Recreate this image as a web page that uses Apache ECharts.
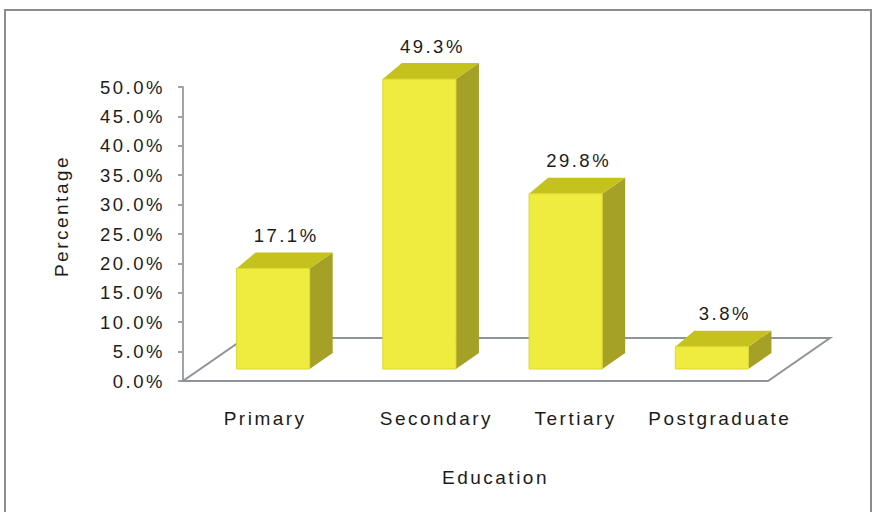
<!DOCTYPE html>
<html>
<head>
<meta charset="utf-8">
<script src="https://cdn.jsdelivr.net/npm/echarts@6/dist/echarts.min.js"></script>
<style>
  html, body { margin: 0; padding: 0; background: #fff; }
  #chart { width: 880px; height: 512px; }
  #chart text { letter-spacing: 2.5px; }
</style>
</head>
<body>
<div id="chart"></div>
<script>
const categories = ['Primary', 'Secondary', 'Tertiary', 'Postgraduate'];
const values = [17.1, 49.3, 29.8, 3.8];
const valueLabels = ['17.1%', '49.3%', '29.8%', '3.8%'];
const yMin = 0, yMax = 50, yStep = 5;
const xTitle = 'Education';
const yTitle = 'Percentage';

const FONT = "'Liberation Sans', Arial, sans-serif";
const TXT = '#1c1c1c';
const FLOOR_DX = 62, FLOOR_DY = -43;
const BAR_DX = 17, BAR_DY = -12;
// horizontal nudges of the category labels (px)
const labelShift = [9, 34, 27, 25];

const chart = echarts.init(document.getElementById('chart'), null, { renderer: 'svg' });

const barData = values.map((v, i) => [i, v]);
const rich = {};
labelShift.forEach((s, i) => {
  rich['c' + i] = {
    fontSize: 19, fontFamily: FONT, color: TXT,
    padding: s >= 0 ? [0, 0, 0, 2 * s] : [0, -2 * s, 0, 0]
  };
});

chart.setOption({
  animation: false,
  backgroundColor: '#fff',
  graphic: [{
    type: 'rect', silent: true, z: -10,
    shape: { x: 5, y: 10, width: 866, height: 530 },
    style: { fill: '#fff', stroke: '#8c8c8c', lineWidth: 2 }
  }],
  grid: { left: 183, top: 87, width: 585, height: 294 },
  xAxis: {
    type: 'category',
    data: categories,
    axisLine: { show: false },
    axisTick: { show: false },
    axisLabel: {
      interval: 0, hideOverlap: false,
      margin: 28, fontSize: 19, fontFamily: FONT, color: TXT,
      formatter: (v, i) => '{c' + i + '|' + v + '}',
      rich: rich
    },
    name: xTitle,
    nameLocation: 'middle',
    nameGap: 87,
    nameTextStyle: { fontSize: 19, fontFamily: FONT, color: TXT, padding: [0, 0, 0, 40] }
  },
  yAxis: {
    type: 'value',
    min: yMin, max: yMax, interval: yStep,
    splitLine: { show: false },
    axisLine: { show: true, lineStyle: { color: '#a2a2a6', width: 2 } },
    axisTick: { show: true, length: 5, lineStyle: { color: '#a2a2a6', width: 2 } },
    axisLabel: {
      margin: 18, fontSize: 18.5, fontFamily: FONT, color: TXT,
      formatter: v => v.toFixed(1) + '%'
    },
    name: yTitle,
    nameLocation: 'middle',
    nameRotate: 90,
    nameGap: 112,
    nameTextStyle: { fontSize: 19, fontFamily: FONT, color: TXT, padding: [0, 0, 0, 36] }
  },
  series: [
    {
      type: 'custom',
      z: 1,
      silent: true,
      data: [[0, 0]],
      renderItem: function (params, api) {
        const cs = params.coordSys;
        const x0 = cs.x, x1 = cs.x + cs.width, y0 = cs.y + cs.height;
        return {
          type: 'polygon',
          shape: { points: [[x0, y0], [x1, y0], [x1 + FLOOR_DX, y0 + FLOOR_DY], [x0 + FLOOR_DX, y0 + FLOOR_DY]] },
          style: { fill: '#fff', stroke: '#8f939a', lineWidth: 2 }
        };
      }
    },
    {
      type: 'custom',
      z: 2,
      data: barData,
      encode: { x: 0, y: 1 },
      renderItem: function (params, api) {
        const i = api.value(0), v = api.value(1);
        const base = api.coord([i, 0]);
        const top = api.coord([i, v]);
        const w = api.size([1, 0])[0] * 0.5;
        const fx = base[0] + BAR_DX - w / 2;
        const fy0 = base[1] + BAR_DY;
        const fy1 = top[1] + BAR_DY;
        const rdx = 23, ldx = 19, ddy = -16;
        return {
          type: 'group',
          children: [
            {
              type: 'polygon',
              shape: { points: [[fx + w, fy1], [fx + w + rdx, fy1 + ddy], [fx + w + rdx, fy0 + ddy], [fx + w, fy0]] },
              style: { fill: '#a5a126' }
            },
            {
              type: 'polygon',
              shape: { points: [[fx, fy1], [fx + w, fy1], [fx + w + rdx, fy1 + ddy], [fx + ldx, fy1 + ddy]] },
              style: { fill: '#c6c21d' }
            },
            {
              type: 'rect',
              shape: { x: fx, y: fy1, width: w, height: fy0 - fy1 },
              style: { fill: '#efeb3f', stroke: '#dcd832', lineWidth: 1 }
            },
            {
              type: 'text',
              style: {
                text: valueLabels[params.dataIndex],
                x: fx + w / 2 + 13, y: fy1 + ddy - 17,
                align: 'center', verticalAlign: 'middle',
                fontSize: 18.5, fontFamily: FONT, fill: TXT
              }
            }
          ]
        };
      }
    }
  ]
});
</script>
</body>
</html>
